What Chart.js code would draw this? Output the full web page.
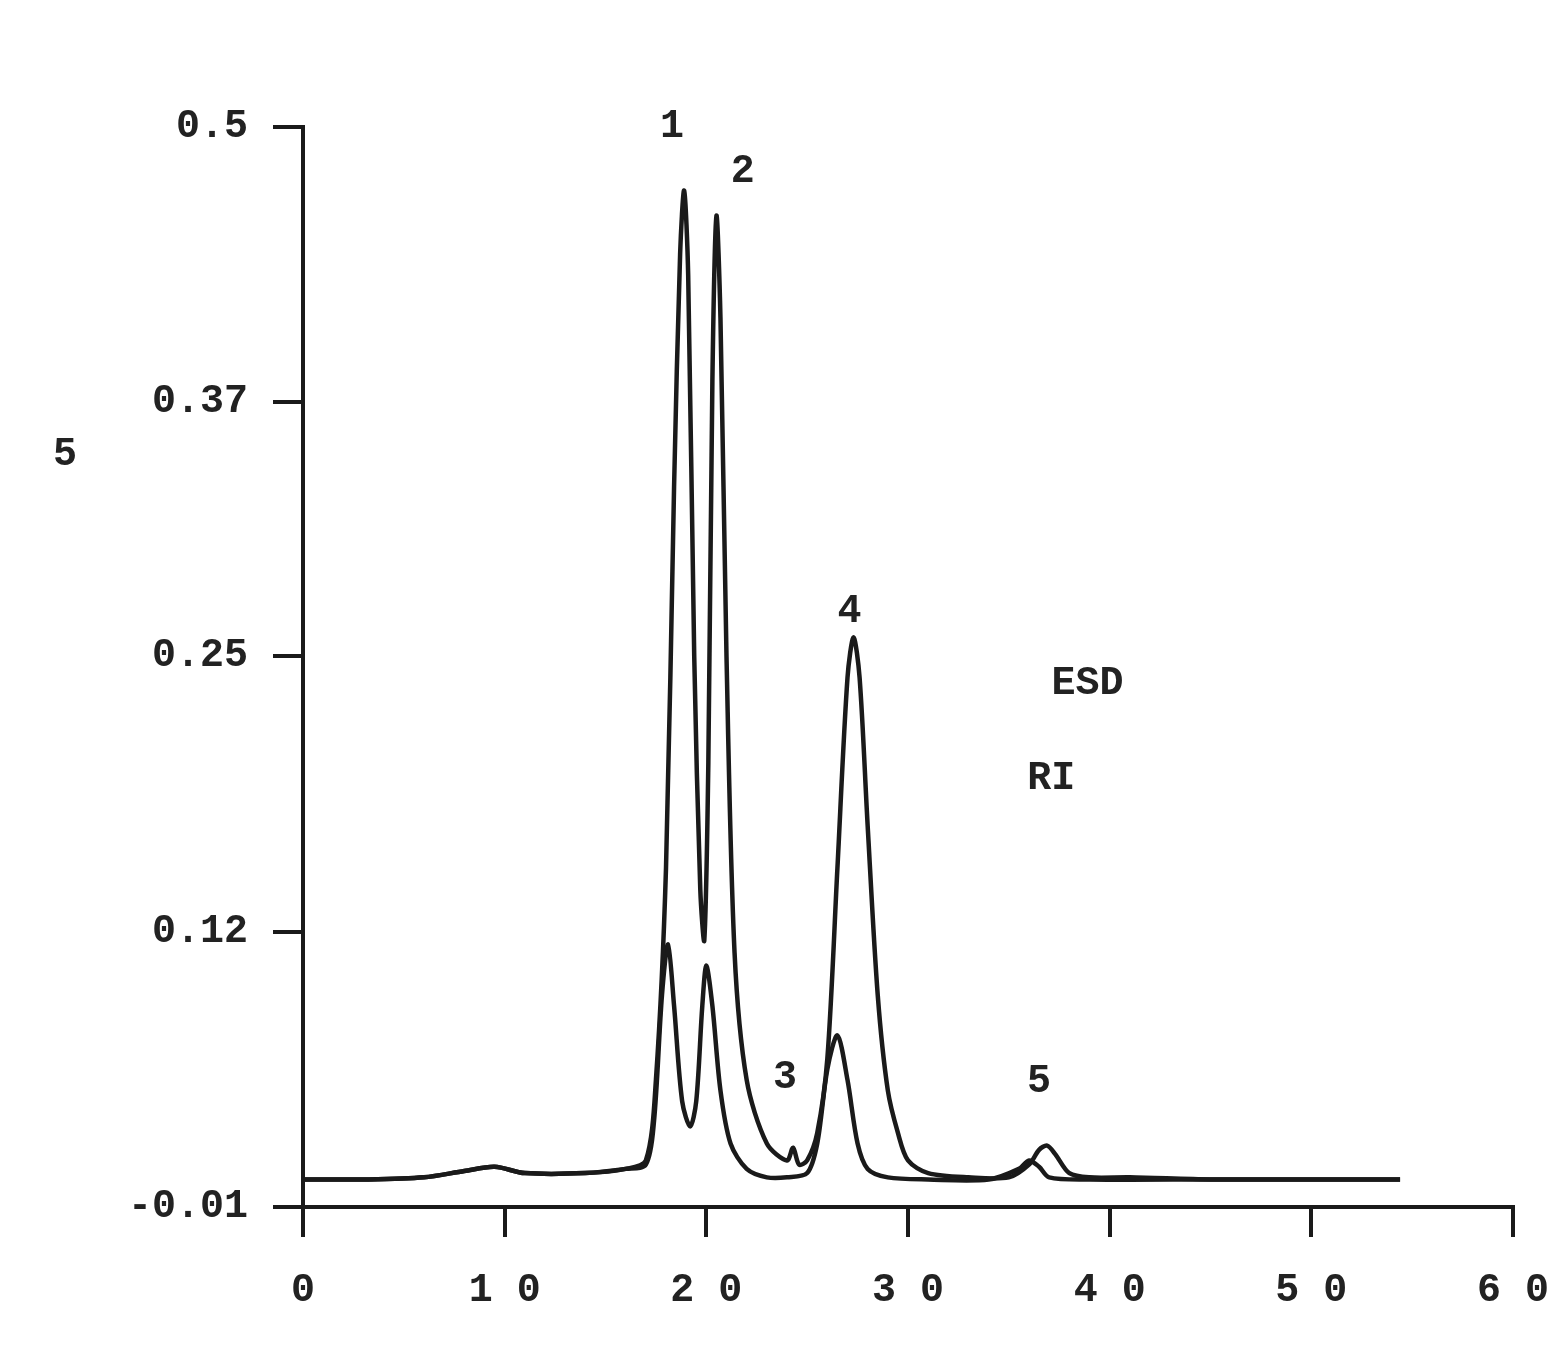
<!DOCTYPE html>
<html><head><meta charset="utf-8">
<script src="https://cdn.jsdelivr.net/npm/chart.js@4/dist/chart.umd.min.js"></script>
<style>html,body{margin:0;background:#fff}#w{width:1557px;height:1349px}</style>
</head><body><div id="w"><canvas id="c"></canvas></div>
<script>
const esdTime=[0,3,6,8,9.5,11,14,16,17,17.5,18,18.4,18.7,18.9,19.1,19.4,19.7,19.9,20.1,20.3,20.5,20.7,21,21.4,22,23,24,24.3,24.6,25,25.5,26,26.5,27,27.3,27.6,28,28.5,29,29.5,30,31,33,35,36,36.5,36.9,37.3,38,39,41,45,50,54.4];
const esdSignal=[0.003,0.003,0.004,0.007,0.009,0.006,0.006,0.008,0.012,0.05,0.15,0.33,0.44,0.47,0.43,0.25,0.14,0.116,0.2,0.38,0.458,0.41,0.25,0.11,0.05,0.02,0.012,0.018,0.01,0.012,0.025,0.06,0.15,0.24,0.259,0.24,0.17,0.09,0.045,0.025,0.012,0.006,0.004,0.004,0.01,0.017,0.019,0.015,0.006,0.004,0.004,0.003,0.003,0.003];
const riTime=[0,3,6,8,9.5,11,14,16,17,17.4,17.8,18.1,18.4,18.8,19.2,19.5,19.8,20.0,20.3,20.7,21.2,22,23,24,25,25.5,26,26.5,27,27.5,28,29,31,34,35.5,36,36.5,37,39,45,54.4];
const riSignal=[0.003,0.003,0.004,0.007,0.009,0.006,0.006,0.008,0.01,0.03,0.09,0.114,0.085,0.04,0.028,0.04,0.085,0.104,0.085,0.045,0.02,0.008,0.004,0.004,0.006,0.02,0.055,0.071,0.05,0.02,0.008,0.004,0.003,0.003,0.008,0.012,0.009,0.004,0.003,0.003,0.003];
const yTicks=[-0.01,0.12,0.25,0.37,0.5];
const xTicks=[0,10,20,30,40,50,60];
const peakLabels=[["1",18.3,0.5],["2",21.8,0.479],["3",23.9,0.051],["4",27.1,0.271],["5",36.5,0.049],["ESD",38.9,0.237],["RI",37.1,0.192]];
const yTitle="5";

const FONT="'Liberation Mono', 'DejaVu Sans Mono', monospace";
const pts=(xs,ys)=>xs.map((x,i)=>({x,y:ys[i]}));
const textPlugin={id:'txt',afterDraw(ch){
  const c=ch.ctx,xs=ch.scales.x,ys=ch.scales.y;
  c.save();c.fillStyle='#222';c.textAlign='center';c.textBaseline='middle';
  c.font="bold 40px "+FONT;
  peakLabels.forEach(([t,x,y])=>c.fillText(t,xs.getPixelForValue(x),ys.getPixelForValue(y)));
  c.fillText(yTitle,65,455);
  c.restore();
}};
new Chart(document.getElementById('c'),{
  type:'scatter',
  data:{datasets:[
    {label:'ESD',data:pts(esdTime,esdSignal),showLine:true,borderColor:'#1a1a1a',borderWidth:4.5,pointRadius:0,tension:0.3},
    {label:'RI',data:pts(riTime,riSignal),showLine:true,borderColor:'#1a1a1a',borderWidth:4.5,pointRadius:0,tension:0.3}
  ]},
  options:{responsive:true,maintainAspectRatio:false,animation:false,
    layout:{padding:{top:127,right:44,left:0,bottom:0}},
    plugins:{legend:{display:false},tooltip:{enabled:false}},
    scales:{
      x:{type:'linear',min:0,max:60,
        afterBuildTicks:a=>{a.ticks=xTicks.map(v=>({value:v}));},
        afterFit:a=>{a.height=142;a.paddingRight=0;a.paddingLeft=0;},
        border:{color:'#1a1a1a',width:4},
        grid:{drawOnChartArea:false,color:'#1a1a1a',lineWidth:4,tickLength:30},
        ticks:{color:'#222',font:{family:FONT,size:40,weight:'bold'},padding:30,callback:v=>String(v).split('').join(' ')}},
      y:{type:'linear',min:-0.01,max:0.5,
        afterBuildTicks:a=>{a.ticks=yTicks.map(v=>({value:v}));},
        afterFit:a=>{a.width=303;},
        border:{color:'#1a1a1a',width:4},
        grid:{drawOnChartArea:false,color:'#1a1a1a',lineWidth:4,tickLength:30},
        ticks:{color:'#222',font:{family:FONT,size:40,weight:'bold'},padding:25,callback:v=>String(v)}}
    }},
  plugins:[textPlugin]
});
</script></body></html>
